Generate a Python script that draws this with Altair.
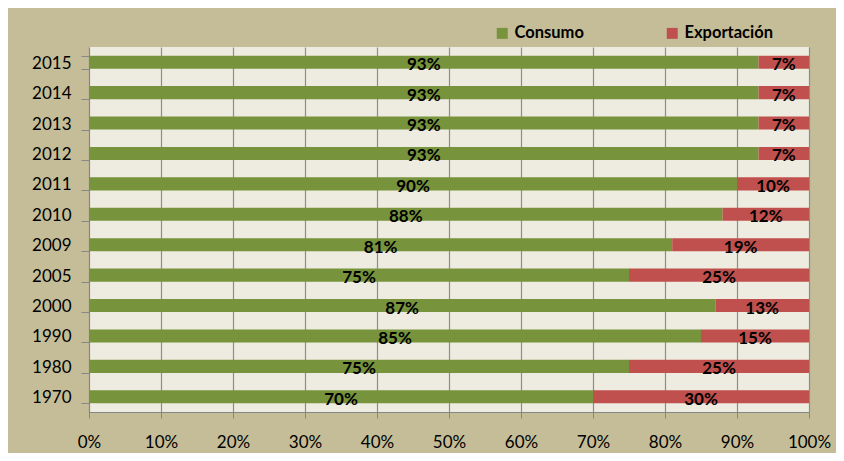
import altair as alt
import pandas as pd

years = ["2015", "2014", "2013", "2012", "2011", "2010", "2009", "2005", "2000", "1990", "1980", "1970"]
consumo = [93, 93, 93, 93, 90, 88, 81, 75, 87, 85, 75, 70]
exportacion = [7, 7, 7, 7, 10, 12, 19, 25, 13, 15, 25, 30]
series = ["Consumo", "Exportación"]
colors = ["#77933c", "#c0504d"]

rows = []
for y, c, e in zip(years, consumo, exportacion):
    rows.append({"year": y, "serie": series[0], "value": c / 100, "order": 0})
    rows.append({"year": y, "serie": series[1], "value": e / 100, "order": 1})
df = pd.DataFrame(rows)

FONT = "Lato"

base = alt.Chart(df).transform_stack(
    stack="value", groupby=["year"], as_=["v0", "v1"], sort=[{"field": "order"}]
).transform_calculate(mid="(datum.v0 + datum.v1) / 2")

yenc = alt.Y(
    "year:N",
    sort=years,
    title=None,
    scale=alt.Scale(paddingInner=0.57, paddingOuter=0.285),
    axis=alt.Axis(
        tickBand="extent", tickSize=8, tickColor="#868686", domainColor="#868686",
        labelFont=FONT, labelFontSize=17, labelColor="#000000", labelPadding=10,
        labelBaseline="middle", labelOffset=1, grid=False,
    ),
)

bars = base.mark_bar().encode(
    x=alt.X(
        "v0:Q",
        title=None,
        scale=alt.Scale(domain=[0, 1], nice=False),
        axis=alt.Axis(
            format="%", values=[i / 10 for i in range(11)], grid=True,
            gridColor="#8c8c8c", gridWidth=1.2, tickColor="#868686", domainColor="#868686",
            tickSize=6, labelPadding=16, labelFont=FONT, labelFontSize=17,
            labelColor="#000000", labelFlush=False,
        ),
    ),
    x2="v1:Q",
    y=yenc,
    color=alt.Color(
        "serie:N",
        scale=alt.Scale(domain=series, range=colors),
        legend=alt.Legend(
            title=None, orient="none", direction="horizontal", legendX=405, legendY=-22,
            symbolType="square", symbolSize=120, symbolStrokeWidth=0,
            labelFont=FONT, labelFontSize=16.5, labelFontWeight="bold", labelColor="#000000",
            columnPadding=80, symbolOffset=0,
        ),
    ),
)

labels = base.mark_text(
    font=FONT, fontSize=17, fontWeight="bold", color="#000000", dy=3
).encode(
    x="mid:Q",
    y=alt.Y("year:N", sort=years),
    text=alt.Text("value:Q", format=".0%"),
)

chart = alt.layer(bars, labels).properties(
    width=720, height=365,
    autosize=alt.AutoSizeParams(type="none"),
    padding={"left": 81, "top": 39, "right": 27, "bottom": 41},
    background="#c4bd97",
).configure_view(fill="#eeece1", stroke=None)

chart.save("out.html", embed_options={"renderer": "svg", "actions": False})
